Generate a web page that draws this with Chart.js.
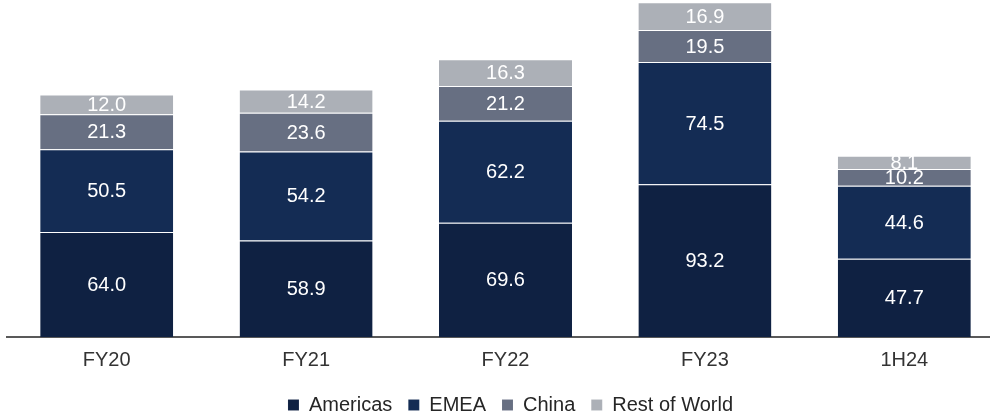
<!DOCTYPE html>
<html>
<head>
<meta charset="utf-8">
<script src="https://cdn.jsdelivr.net/npm/chart.js@4.4.1/dist/chart.umd.min.js"></script>
<style>
  html, body { margin: 0; padding: 0; background: #ffffff; overflow: hidden; }
  #wrap { width: 1004px; height: 414px; }
</style>
</head>
<body>
<div id="wrap"><canvas id="c" width="1004" height="414"></canvas></div>
<script>
const categories = ["FY20", "FY21", "FY22", "FY23", "1H24"];
const americas = [64.0, 58.9, 69.6, 93.2, 47.7];
const emea = [50.5, 54.2, 62.2, 74.5, 44.6];
const china = [21.3, 23.6, 21.2, 19.5, 10.2];
const restOfWorld = [12.0, 14.2, 16.3, 16.9, 8.1];

const FONT = "'Liberation Sans', Arial, sans-serif";

const segBorder = { top: 1, left: 0, right: 0, bottom: 0 };
function ds(label, data, color) {
  return {
    label, data,
    backgroundColor: color,
    borderColor: 'rgba(255,255,255,0.3)',
    borderWidth: segBorder,
    borderSkipped: false,
    barPercentage: 0.667,
    categoryPercentage: 1.0
  };
}

const valueLabels = {
  id: 'valueLabels',
  afterDatasetsDraw(chart) {
    const ctx = chart.ctx;
    ctx.save();
    ctx.fillStyle = '#ffffff';
    ctx.font = '20px ' + FONT;
    ctx.textAlign = 'center';
    ctx.textBaseline = 'middle';
    chart.data.datasets.forEach((d, i) => {
      const meta = chart.getDatasetMeta(i);
      meta.data.forEach((bar, j) => {
        const v = d.data[j];
        const y = (bar.y + bar.base) / 2;
        ctx.fillText(v.toFixed(1), bar.x, y + 1);
      });
    });
    ctx.restore();
  }
};

const legendShift = {
  id: 'legendShift',
  afterLayout(chart) {
    if (chart.legend) {
      chart.legend.top -= 4;
      chart.legend.bottom -= 4;
      chart.legend.left += 5;
      chart.legend.right += 5;
    }
  }
};

new Chart(document.getElementById('c'), {
  type: 'bar',
  data: {
    labels: categories,
    datasets: [
      ds('Americas', americas, '#0f2142'),
      ds('EMEA', emea, '#142c54'),
      ds('China', china, '#676f82'),
      ds('Rest of World', restOfWorld, '#acb0b7')
    ]
  },
  options: {
    responsive: false,
    animation: false,
    devicePixelRatio: 1,
    layout: { padding: { left: 7, right: 0, top: 0, bottom: -15 } },
    scales: {
      x: {
        stacked: true,
        grid: { display: false, drawTicks: false },
        border: { display: true, color: '#595959', width: 2 },
        ticks: { color: '#333333', font: { family: FONT, size: 20 }, padding: 11 }
      },
      y: {
        stacked: true,
        display: false,
        min: 0,
        max: 205.5
      }
    },
    plugins: {
      legend: {
        position: 'bottom',
        labels: {
          boxWidth: 11,
          boxHeight: 11,
          color: '#262626',
          padding: 16,
          font: { family: FONT, size: 20 }
        }
      },
      tooltip: { enabled: false }
    }
  },
  plugins: [valueLabels, legendShift]
});
</script>
</body>
</html>
